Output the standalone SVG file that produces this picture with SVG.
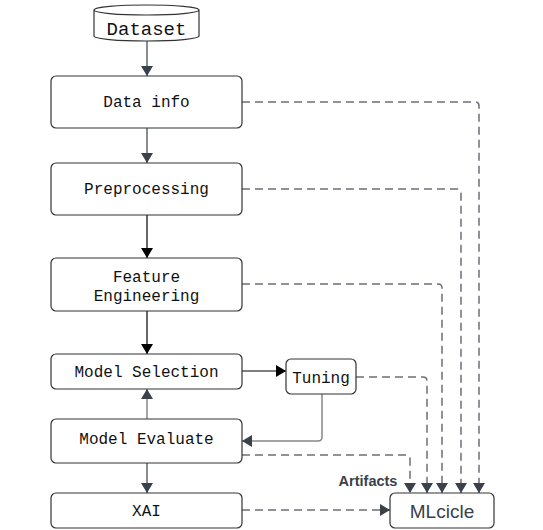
<svg xmlns="http://www.w3.org/2000/svg" width="543" height="530" viewBox="0 0 543 530">
<style>
.box{fill:#fff;stroke:#333;stroke-width:1.2}
.t{font-family:"Liberation Mono","Courier New",monospace;font-size:16px;fill:#111;text-anchor:middle}
.solid{fill:none;stroke:#000;stroke-width:1.2}
.gray{fill:none;stroke:#3a414a;stroke-width:1.2}
.lgray{fill:none;stroke:#888;stroke-width:1.5}
.dash{fill:none;stroke:#6b6f75;stroke-width:1.5;stroke-dasharray:8 5}
</style>
<defs>
<marker id="ab" markerWidth="10" markerHeight="12" refX="10" refY="6" orient="auto" markerUnits="userSpaceOnUse"><path d="M0,0 L10,6 L0,12 z" fill="#000"/></marker>
<marker id="ag" markerWidth="10" markerHeight="12" refX="10" refY="6" orient="auto" markerUnits="userSpaceOnUse"><path d="M0,0 L10,6 L0,12 z" fill="#3a414a"/></marker>
</defs>
<g id="connectors">
<path class="gray" d="M147,40 V76" marker-end="url(#ag)"/>
<path class="gray" d="M147,128 V163" marker-end="url(#ag)"/>
<path class="solid" d="M147,215 V258" marker-end="url(#ab)"/>
<path class="solid" d="M147,311 V354" marker-end="url(#ab)"/>
<path class="solid" d="M242,371 H286" marker-end="url(#ab)"/>
<path class="lgray" d="M322,394 V437 Q322,441 318,441 H242" marker-end="url(#ag)"/>
<path class="lgray" d="M147,419 V389" marker-end="url(#ag)"/>
<path class="gray" d="M147,463 V493" marker-end="url(#ag)"/>
<path class="dash" d="M242,102 H475 Q479,102 479,106 V493" marker-end="url(#ag)"/>
<path class="dash" d="M242,189 H457 Q461,189 461,193 V493" marker-end="url(#ag)"/>
<path class="dash" d="M242,284 H438 Q442,284 442,288 V493" marker-end="url(#ag)"/>
<path class="dash" d="M356,377 H423 Q427,377 427,381 V493" marker-end="url(#ag)"/>
<path class="dash" d="M242,455 H406 Q410,455 410,459 V493" marker-end="url(#ag)"/>
<path class="dash" d="M242,510 H390" marker-end="url(#ag)"/>
<text x="368" y="486" font-family="Liberation Sans,Arial,sans-serif" font-size="14.5" font-weight="bold" fill="#3a414a" text-anchor="middle">Artifacts</text>
</g>
<g id="dataset">
<path class="box" d="M94,10 V36 A52.5,5 0 0 0 199,36 V10 A52.5,5 0 0 0 94,10 A52.5,5 0 0 0 199,10"/>
<text class="t" x="146.5" y="35" style="font-size:19px">Dataset</text>
</g>
<g id="data-info">
<rect class="box" x="51" y="76" width="191" height="52" rx="5"/>
<text class="t" x="146.5" y="107">Data info</text>
</g>
<g id="preprocessing">
<rect class="box" x="51" y="163" width="191" height="52" rx="5"/>
<text class="t" x="146.5" y="194">Preprocessing</text>
</g>
<g id="feature-engineering">
<rect class="box" x="51" y="258" width="191" height="53" rx="5"/>
<text class="t" x="146.5" y="282">Feature</text>
<text class="t" x="146.5" y="301">Engineering</text>
</g>
<g id="model-selection">
<rect class="box" x="51" y="354" width="191" height="35" rx="5"/>
<text class="t" x="146.5" y="377">Model Selection</text>
</g>
<g id="tuning">
<rect class="box" x="286" y="359" width="70" height="35" rx="5"/>
<text class="t" x="321" y="383">Tuning</text>
</g>
<g id="model-evaluate">
<rect class="box" x="51" y="419" width="191" height="44" rx="5"/>
<text class="t" x="146.5" y="444">Model Evaluate</text>
</g>
<g id="xai">
<rect class="box" x="51" y="493" width="191" height="35" rx="5"/>
<text class="t" x="146.5" y="516">XAI</text>
</g>
<g id="mlcicle">
<rect class="box" x="390" y="493" width="104" height="35" rx="5"/>
<text x="442" y="518" font-family="Liberation Sans,Arial,sans-serif" font-size="19" fill="#3a414a" text-anchor="middle">MLcicle</text>
</g>
</svg>
